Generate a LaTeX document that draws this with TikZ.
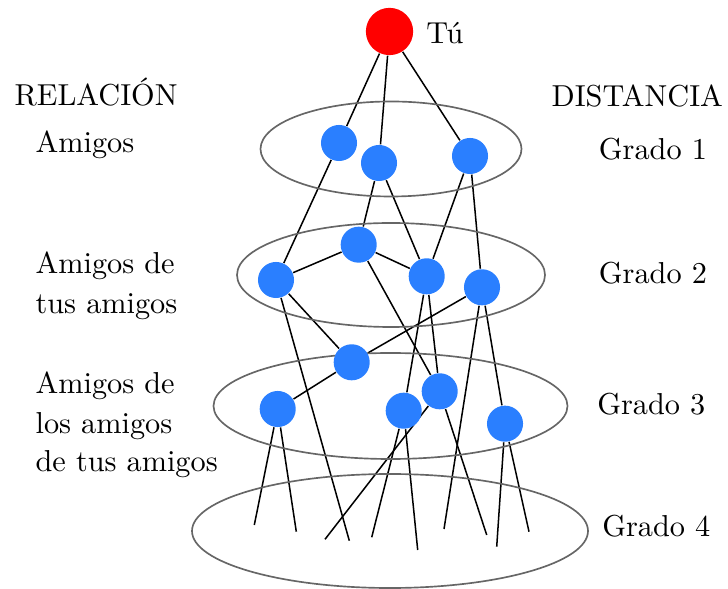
\documentclass[tikz,border=0pt]{standalone}
\usetikzlibrary{shapes.geometric}
\definecolor{nodeblue}{HTML}{2A7FFF}
\definecolor{ringgray}{HTML}{666666}
\pgfdeclarelayer{background}
\pgfsetlayers{background,main}
\begin{document}
\begin{tikzpicture}[x=0.33pt,y=-0.33pt,
  person/.style={circle,fill=nodeblue,draw=none,minimum size=11.9pt,inner sep=0pt},
  me/.style={circle,fill=red,draw=none,minimum size=15.6pt,inner sep=0pt},
  ring/.style={ellipse,draw=ringgray,line width=0.55pt,inner sep=0pt},
  link/.style={black,line width=0.5pt},
  lbl/.style={anchor=base west,inner sep=0pt,font=\fontsize{10}{12}\selectfont}]
\useasboundingbox (0,0) rectangle (728,589);
% rings
\node[ring,minimum width=86.13pt,minimum height=31.35pt] (E1) at (391,149) {};
\node[ring,minimum width=101.64pt,minimum height=34.32pt] (E2) at (391,275) {};
\node[ring,minimum width=116.82pt,minimum height=34.98pt] (E3) at (390.5,406) {};
\node[ring,minimum width=130.68pt,minimum height=37.62pt] (E4) at (390,531) {};
% people
\node[me] (T) at (389.5,31.5) {};
\node[person] (A1) at (339,143) {};
\node[person] (A2) at (379,163) {};
\node[person] (A3) at (470,156) {};
\node[person] (B1) at (276,280) {};
\node[person] (B2) at (358.7,244.7) {};
\node[person] (B3) at (426.7,276.3) {};
\node[person] (B4) at (482,287.3) {};
\node[person] (C1) at (351.7,362.3) {};
\node[person] (C2) at (277.7,409) {};
\node[person] (C3) at (403.7,410.7) {};
\node[person] (C4) at (439.7,391.3) {};
\node[person] (C5) at (505,423.7) {};
% free ends at degree 4
\coordinate (d1) at (254.3,525);
\coordinate (d2) at (296.3,531.7);
\coordinate (d3) at (325,539.3);
\coordinate (d4) at (349.3,540.7);
\coordinate (d5) at (371.7,537.3);
\coordinate (d6) at (417.7,550);
\coordinate (d7) at (444,529);
\coordinate (d8) at (486.7,535);
\coordinate (d9) at (496.7,546.7);
\coordinate (d10) at (529,531.7);
\begin{pgfonlayer}{background}
\draw[link] (T) -- (A1);
\draw[link] (T) -- (A2);
\draw[link] (T) -- (A3);
\draw[link] (A1) -- (B1);
\draw[link] (A2) -- (B2);
\draw[link] (A2) -- (B3);
\draw[link] (A3) -- (B3);
\draw[link] (A3) -- (B4);
\draw[link] (B1) -- (B2);
\draw[link] (B2) -- (B3);
\draw[link] (B1) -- (C1);
\draw[link] (B1) -- (d4);
\draw[link] (B2) -- (C4);
\draw[link] (B3) -- (C3);
\draw[link] (B3) -- (C4);
\draw[link] (B4) -- (C1);
\draw[link] (B4) -- (C5);
\draw[link] (B4) -- (d7);
\draw[link] (C1) -- (C2);
\draw[link] (C2) -- (d1);
\draw[link] (C2) -- (d2);
\draw[link] (C3) -- (d5);
\draw[link] (C3) -- (d6);
\draw[link] (C4) -- (d3);
\draw[link] (C4) -- (d8);
\draw[link] (C5) -- (d9);
\draw[link] (C5) -- (d10);
\end{pgfonlayer}
% labels
\node[lbl] (tu) at (425.7,43.3) {Tú};
\node[lbl] (rel) at (14,106) {RELACIÓN};
\node[lbl] (dist) at (551,106.5) {DISTANCIA};
\node[lbl] (r1) at (35,153) {Amigos};
\node[lbl] (r2a) at (35,273.3) {Amigos de};
\node[lbl] (r2b) at (35,313.3) {tus amigos};
\node[lbl] (r3a) at (35,393.3) {Amigos de};
\node[lbl] (r3b) at (35,433.3) {los amigos};
\node[lbl] (r3c) at (35,472) {de tus amigos};
\node[lbl] (g1) at (598.3,160) {Grado 1};
\node[lbl] (g2) at (598.3,283.3) {Grado 2};
\node[lbl] (g3) at (596.7,415) {Grado 3};
\node[lbl] (g4) at (601.7,536.7) {Grado 4};
\end{tikzpicture}
\end{document}
